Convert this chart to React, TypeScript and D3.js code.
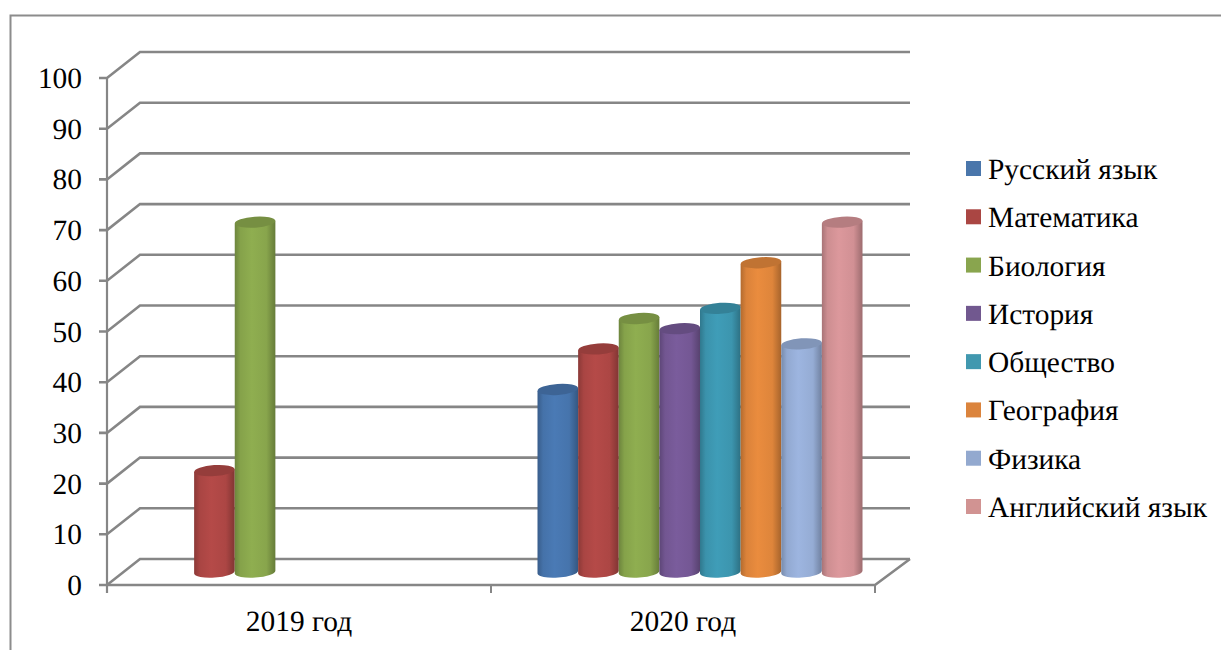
import React from "react";
import * as d3 from "d3";

const categories = ["2019 год", "2020 год"];
const subjects = ["Русский язык", "Математика", "Биология", "История", "Общество", "География", "Физика", "Английский язык"];
const colors = ["#4a7ab5", "#b54a48", "#8fae50", "#7a5c9c", "#3f9db8", "#ea8c3e", "#9db5e0", "#dc989c"];
const legendColors = ["#4a76ab", "#aa4643", "#89a54e", "#71588f", "#4198af", "#db843d", "#93a9cf", "#d19392"];
const values2019: (number | null)[] = [null, 20, 69, null, null, null, null, null];
const values2020: (number | null)[] = [36, 44, 50, 48, 52, 61, 45, 69];
const seriesByCategory = [values2019, values2020];
const yTicks = [0, 10, 20, 30, 40, 50, 60, 70, 80, 90, 100];

const W = 1221, H = 650;
const FONT = "'Liberation Serif', serif";
const FS = 29.4;
const GRID = "#868686";
const depthX = 33, depthY = 26;

const y = d3.scaleLinear().domain([0, 100]).range([585, 78]);
const x0 = d3.scaleBand<string>().domain(categories).range([107, 875]);
const x1 = d3.scaleBand<string>().domain(subjects).range([0, 325]);
const legendY = d3.scalePoint<string>().domain(subjects).range([169, 507]);

const rx = x1.bandwidth() / 2;
const ry = 5.5;
const tilt = -4;

export default function App() {
  const categoryTicks = [107, ...categories.map((c) => (x0(c) as number) + x0.bandwidth())];
  return (
    <svg
      width={W}
      height={H}
      textRendering="geometricPrecision"
      style={{ position: "absolute", left: 0, top: 0, display: "block", background: "#fff" }}
    >
      <defs>
        {colors.map((c, i) => {
          const col = d3.color(c)!;
          return (
            <linearGradient key={i} id={`body${i}`} x1="0" x2="1" y1="0" y2="0">
              <stop offset="0" stopColor={col.darker(0.75).formatHex()} />
              <stop offset="0.14" stopColor={col.darker(0.2).formatHex()} />
              <stop offset="0.42" stopColor={c} />
              <stop offset="0.78" stopColor={col.darker(0.15).formatHex()} />
              <stop offset="1" stopColor={col.darker(0.95).formatHex()} />
            </linearGradient>
          );
        })}
      </defs>

      <path d={`M10.5,650V15.5H${W}`} fill="none" stroke="#8c8c8c" strokeWidth={2} />

      {yTicks.map((t) => (
        <g key={t}>
          <path
            d={`M99,${y(t)}H107L${107 + depthX},${y(t) - depthY}H${875 + depthX + 2}`}
            fill="none"
            stroke={GRID}
            strokeWidth={2.6}
          />
          <text x={82} y={y(t) + 10} textAnchor="end" fontFamily={FONT} fontSize={FS} fill="#000">
            {t}
          </text>
        </g>
      ))}
      <path d={`M107,${y(100)}V593`} fill="none" stroke={GRID} strokeWidth={2.2} />
      <path d={`M107,${y(0)}H875L${875 + depthX + 2},${y(0) - depthY}`} fill="none" stroke={GRID} strokeWidth={2.6} />
      {categoryTicks.map((tx) => (
        <path key={tx} d={`M${tx},${y(0)}V593`} stroke={GRID} strokeWidth={2} fill="none" />
      ))}

      {categories.map((c, ci) => {
        const start = (x0(c) as number) + x0.bandwidth() / 2 + depthX / 2 - 162;
        return (
          <g key={c}>
            {subjects.map((s, si) => {
              const v = seriesByCategory[ci][si];
              if (v == null) return null;
              const left = start + (x1(s) as number);
              const cx = left + rx;
              const yBase = y(0) - depthY / 2;
              const yTop = y(v) - depthY / 2;
              const dy = rx * Math.tan((tilt * Math.PI) / 180);
              const body = `M${left},${yTop - dy}L${left},${yBase - dy}A${rx},${ry},${tilt},0,0,${left + 2 * rx},${yBase + dy}L${left + 2 * rx},${yTop + dy}Z`;
              return (
                <g key={s}>
                  <path d={body} fill={`url(#body${si})`} />
                  <ellipse
                    cx={cx}
                    cy={yTop}
                    rx={rx}
                    ry={ry}
                    transform={`rotate(${tilt} ${cx} ${yTop})`}
                    fill={d3.color(colors[si])!.darker(0.55).formatHex()}
                  />
                </g>
              );
            })}
          </g>
        );
      })}

      {categories.map((c) => (
        <text
          key={c}
          x={(x0(c) as number) + x0.bandwidth() / 2}
          y={631}
          textAnchor="middle"
          fontFamily={FONT}
          fontSize={FS}
          fill="#000"
        >
          {c}
        </text>
      ))}

      {subjects.map((s, i) => (
        <g key={s}>
          <rect x={966} y={(legendY(s) as number) - 8} width={15} height={15} fill={legendColors[i]} />
          <text x={988} y={(legendY(s) as number) + 10} fontFamily={FONT} fontSize={FS} fill="#000">
            {s}
          </text>
        </g>
      ))}
    </svg>
  );
}
